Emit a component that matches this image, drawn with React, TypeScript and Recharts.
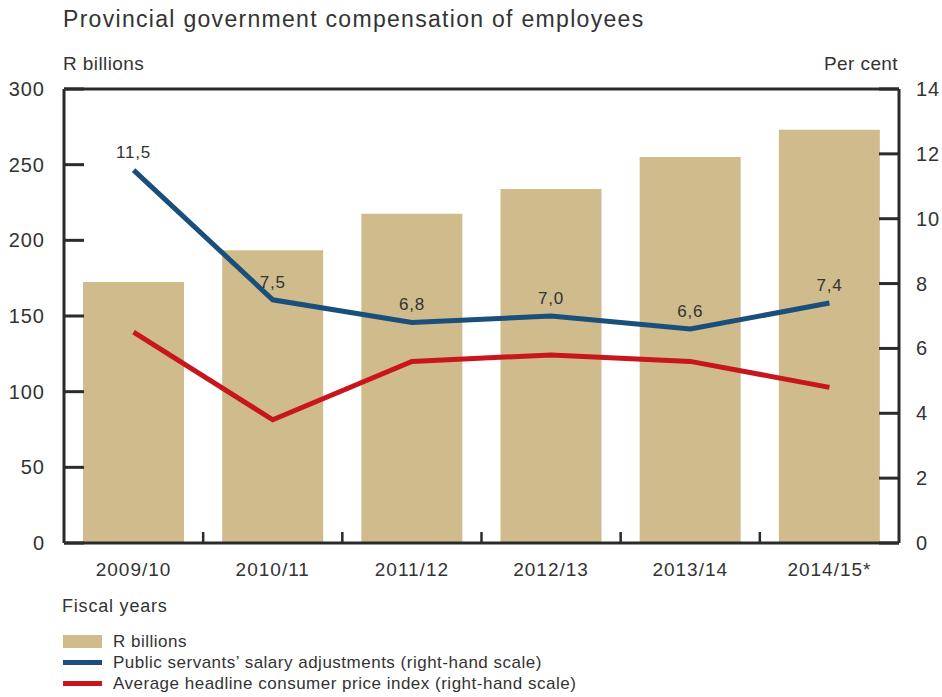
import {
  Bar,
  ComposedChart,
  LabelList,
  Line,
  ReferenceLine,
  XAxis,
  YAxis
} from 'recharts';

const categories = ['2009/10', '2010/11', '2011/12', '2012/13', '2013/14', '2014/15*'];
const compensation = [172.5, 193.5, 217.5, 234, 255, 273];
const salaryAdjustments = [11.5, 7.5, 6.8, 7.0, 6.6, 7.4];
const cpi = [6.5, 3.8, 5.6, 5.8, 5.6, 4.8];
const leftTicks = [0, 50, 100, 150, 200, 250, 300];
const rightTicks = [0, 2, 4, 6, 8, 10, 12, 14];

const data = categories.map((year, i) => ({
  year,
  rands: compensation[i],
  salary: salaryAdjustments[i],
  cpi: cpi[i]
}));

const W = 942;
const H = 697;
const M = { top: 89, right: 0, bottom: 124, left: 0 };
const LEFT_W = 64;
const RIGHT_W = 43;
const X_H = 30;
const STEP = (W - LEFT_W - RIGHT_W) / categories.length;

const INK = '#2b2b2b';
const TEXT = '#333333';
const FONT = '"Liberation Sans", Arial, sans-serif';
const BAR = '#cfbb8c';
const BLUE = '#1b4f7b';
const RED = '#c8161d';

const fmt = (v: number) => v.toFixed(1).replace('.', ',');

function LeftTick(props: any) {
  const { x, y, payload } = props;
  return (
    <g>
      <line x1={x + 19} x2={x + 39} y1={y} y2={y} stroke={INK} strokeWidth={3} />
      <text x={x} y={y} dy="0.35em" textAnchor="end" fontSize={20} letterSpacing={1} fill={TEXT} fontFamily={FONT}>
        {payload.value}
      </text>
    </g>
  );
}

function RightTick(props: any) {
  const { x, y, payload } = props;
  return (
    <g>
      <line x1={x - 17} x2={x - 37} y1={y} y2={y} stroke={INK} strokeWidth={3} />
      <text x={x} y={y} dy="0.35em" textAnchor="start" fontSize={20} letterSpacing={1} fill={TEXT} fontFamily={FONT}>
        {payload.value}
      </text>
    </g>
  );
}

function BottomTick(props: any) {
  const { x, y, payload, index } = props;
  const axisY = y - 20;
  return (
    <g>
      {index > 0 && (
        <line
          x1={x - STEP / 2}
          x2={x - STEP / 2}
          y1={axisY}
          y2={axisY - 11}
          stroke={INK}
          strokeWidth={2.5}
        />
      )}
      <text x={x} y={y} dy="0.71em" textAnchor="middle" fontSize={19} letterSpacing={1} fill={TEXT} fontFamily={FONT}>
        {payload.value}
      </text>
    </g>
  );
}

const legendItems = [
  { label: 'R billions', color: BAR, kind: 'bar' },
  { label: 'Public servants\u2019 salary adjustments (right-hand scale)', color: BLUE, kind: 'line' },
  { label: 'Average headline consumer price index (right-hand scale)', color: RED, kind: 'line' }
];

function LegendBox() {
  return (
    <div style={{ position: 'absolute', left: 63, top: 631, fontFamily: FONT, fontSize: 17, letterSpacing: 0.5, color: TEXT }}>
      {legendItems.map((item) => (
        <div key={item.label} style={{ display: 'flex', alignItems: 'center', height: 21 }}>
          <div
            style={{
              width: 39,
              height: item.kind === 'bar' ? 13 : 5,
              background: item.color,
              marginRight: 11
            }}
          />
          <span>{item.label}</span>
        </div>
      ))}
    </div>
  );
}

export default function App() {
  return (
    <div style={{ position: 'absolute', left: 0, top: 0, width: W, height: H, background: '#fff', fontFamily: FONT, color: TEXT }}>
      <div style={{ position: 'absolute', left: 63, top: 6, fontSize: 23, letterSpacing: 1.3, lineHeight: '26px' }}>
        Provincial government compensation of employees
      </div>
      <div style={{ position: 'absolute', left: 63, top: 53, fontSize: 19, letterSpacing: 0.4, lineHeight: '22px' }}>R billions</div>
      <div style={{ position: 'absolute', right: 44, top: 53, fontSize: 19, letterSpacing: 0.4, lineHeight: '22px' }}>Per cent</div>
      <div style={{ position: 'absolute', left: 62, top: 595, fontSize: 18, letterSpacing: 0.8, lineHeight: '22px' }}>Fiscal years</div>
      <ComposedChart width={W} height={H} data={data} margin={M} style={{ fontFamily: FONT }}>
        <XAxis
          dataKey="year"
          xAxisId="x"
          height={X_H}
          axisLine={{ stroke: INK, strokeWidth: 3 }}
          tickLine={false}
          tickSize={0}
          tickMargin={20}
          interval={0}
          tick={<BottomTick />}
        />
        <YAxis
          yAxisId="left"
          orientation="left"
          width={LEFT_W}
          domain={[0, 300]}
          ticks={leftTicks}
          axisLine={{ stroke: INK, strokeWidth: 3 }}
          tickLine={false}
          tickSize={0}
          tickMargin={19}
          tick={<LeftTick />}
        />
        <YAxis
          yAxisId="right"
          orientation="right"
          width={RIGHT_W}
          domain={[0, 14]}
          ticks={rightTicks}
          axisLine={{ stroke: INK, strokeWidth: 3 }}
          tickLine={false}
          tickSize={0}
          tickMargin={17}
          tick={<RightTick />}
        />
        <ReferenceLine xAxisId="x" yAxisId="left" y={300} stroke={INK} strokeWidth={3} />
        <Bar
          xAxisId="x"
          yAxisId="left"
          dataKey="rands"
          fill={BAR}
          barSize={101}
          isAnimationActive={false}
        />
        <Line
          xAxisId="x"
          yAxisId="right"
          dataKey="cpi"
          stroke={RED}
          strokeWidth={5}
          dot={false}
          activeDot={false}
          isAnimationActive={false}
        />
        <Line
          xAxisId="x"
          yAxisId="right"
          dataKey="salary"
          stroke={BLUE}
          strokeWidth={5}
          dot={false}
          activeDot={false}
          isAnimationActive={false}
        >
          <LabelList
            dataKey="salary"
            position="top"
            offset={12}
            formatter={(v: any) => fmt(Number(v))}
            style={{ fontSize: 17, letterSpacing: 0.8, fill: TEXT, fontFamily: FONT }}
          />
        </Line>
      </ComposedChart>
      <LegendBox />
    </div>
  );
}
